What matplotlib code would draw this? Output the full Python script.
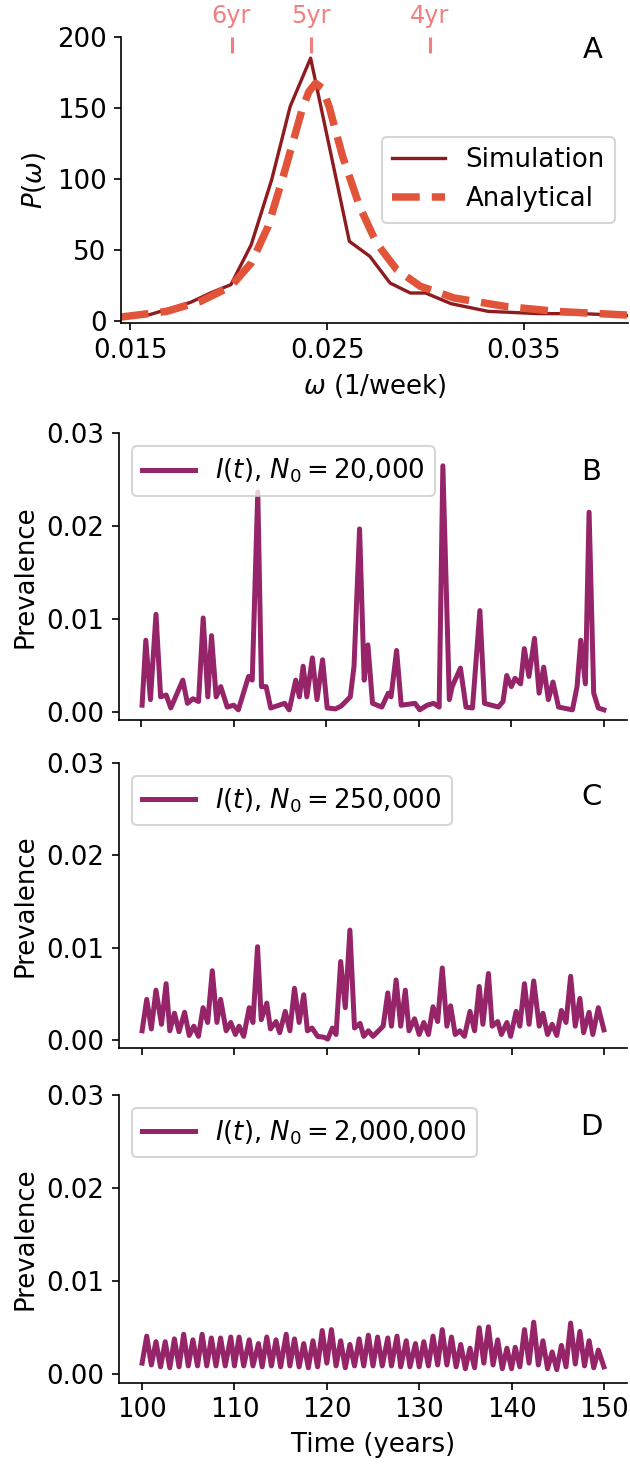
import numpy as np
import matplotlib
matplotlib.use("Agg")
import matplotlib.pyplot as plt
from matplotlib.ticker import FormatStrFormatter

plt.rcParams['font.size'] = 12.5

# --- panel A: power spectrum ---
omega_sim = [0.01452, 0.01598, 0.01805, 0.01908, 0.02011, 0.02114, 0.02218, 0.02312,
             0.02416, 0.02613, 0.02717, 0.02820, 0.02923, 0.03001, 0.03130, 0.03319,
             0.03577, 0.03801, 0.04025]
power_sim = [3.5, 4.7, 13.3, 20.0, 25.8, 53.9, 99.5, 151.0,
             185.0, 56.2, 45.7, 26.9, 19.9, 19.9, 12.4, 7.0,
             5.4, 5.4, 4.0]

omega_ana = [0.01452, 0.01684, 0.01856, 0.02011, 0.02114, 0.02200, 0.02286, 0.02372,
             0.02407, 0.02441, 0.02476, 0.02510, 0.02579, 0.02665, 0.02751, 0.02854,
             0.02974, 0.03146, 0.03405, 0.03663, 0.04024]
power_ana = [3.0, 7.0, 14.0, 24.6, 41.0, 66.7, 106.4, 148.5,
             161.4, 167.3, 163.8, 150.9, 115.8, 80.7, 55.0, 36.3,
             24.6, 16.4, 10.5, 7.0, 4.4]

period_labels = ["6yr", "5yr", "4yr"]
period_omega = [0.02014, 0.02417, 0.03021]

# --- panel B: N0 = 20,000 ---
t_b = [100.1, 100.5, 101.0, 101.6, 102.1, 102.7, 103.2, 104.5, 105.0, 105.6, 106.2, 106.7,
       107.2, 107.6, 108.1, 108.6, 109.3, 110.0, 110.5, 111.6, 112.0, 112.6, 113.0, 113.5,
       114.0, 115.5, 116.0, 116.7, 117.1, 117.5, 117.9, 118.5, 119.0, 119.6, 120.1, 121.0,
       121.6, 122.6, 123.0, 123.6, 124.1, 124.5, 125.0, 126.0, 126.7, 127.0, 127.6, 128.1,
       129.6, 130.1, 130.9, 131.6, 132.2, 132.6, 133.3, 133.6, 134.5, 135.1, 135.8, 136.6,
       137.1, 138.6, 139.1, 139.5, 140.0, 140.4, 141.0, 141.4, 141.9, 142.5, 143.0, 143.5,
       144.0, 144.5, 145.1, 146.6, 147.1, 147.5, 148.0, 148.4, 148.9, 149.4, 150.0]
i_b = [0.0007, 0.0077, 0.0013, 0.0105, 0.0016, 0.0018, 0.0004, 0.0034, 0.0009, 0.0014, 0.0011, 0.0101,
       0.0016, 0.0082, 0.0016, 0.0027, 0.0005, 0.0007, 0.0002, 0.0038, 0.0034, 0.0237, 0.0027, 0.0027,
       0.0004, 0.0009, 0.0002, 0.0034, 0.0016, 0.0049, 0.0016, 0.0058, 0.0013, 0.0056, 0.0004, 0.0003,
       0.0006, 0.0016, 0.0049, 0.0197, 0.0034, 0.0072, 0.0009, 0.0005, 0.0020, 0.0016, 0.0066, 0.0007,
       0.0009, 0.0002, 0.0007, 0.0009, 0.0005, 0.0265, 0.0013, 0.0027, 0.0047, 0.0005, 0.0004, 0.0109,
       0.0009, 0.0005, 0.0011, 0.0039, 0.0027, 0.0036, 0.0030, 0.0068, 0.0038, 0.0079, 0.0020, 0.0048,
       0.0013, 0.0032, 0.0005, 0.0002, 0.0027, 0.0077, 0.0030, 0.0215, 0.0020, 0.0004, 0.0002]

# --- panel C: N0 = 250,000 ---
t_c = [100.0, 100.5, 101.0, 101.5, 102.1, 102.6, 103.0, 103.5, 104.0, 104.6, 105.1, 105.6,
       106.1, 106.6, 107.1, 107.6, 108.1, 108.5, 109.1, 109.6, 110.1, 110.5, 111.0, 111.6,
       112.0, 112.5, 112.9, 113.5, 113.9, 114.5, 114.9, 115.5, 116.0, 116.5, 117.0, 117.5,
       117.9, 118.4, 119.0, 119.7, 120.1, 120.6, 121.0, 121.5, 122.0, 122.5, 123.0, 123.6,
       124.0, 124.5, 125.0, 125.6, 126.1, 126.6, 127.0, 127.5, 128.0, 128.5, 128.9, 129.5,
       130.0, 130.5, 131.0, 131.5, 132.0, 132.5, 133.0, 133.4, 133.9, 134.4, 134.9, 135.5,
       136.0, 136.5, 136.9, 137.5, 137.9, 138.5, 138.9, 139.5, 139.9, 140.5, 140.9, 141.4,
       141.9, 142.4, 143.0, 143.4, 143.9, 144.4, 144.9, 145.4, 145.9, 146.4, 146.9, 147.4,
       147.8, 148.4, 148.8, 149.4, 150.0]
i_c = [0.0010, 0.0044, 0.0012, 0.0054, 0.0017, 0.0061, 0.0010, 0.0029, 0.0009, 0.0030, 0.0005, 0.0015,
       0.0004, 0.0035, 0.0019, 0.0075, 0.0019, 0.0044, 0.0010, 0.0019, 0.0006, 0.0015, 0.0004, 0.0035,
       0.0019, 0.0101, 0.0022, 0.0040, 0.0012, 0.0020, 0.0008, 0.0031, 0.0010, 0.0056, 0.0019, 0.0049,
       0.0010, 0.0013, 0.0004, 0.0003, 0.0001, 0.0013, 0.0006, 0.0085, 0.0035, 0.0119, 0.0013, 0.0018,
       0.0004, 0.0010, 0.0004, 0.0010, 0.0015, 0.0051, 0.0015, 0.0065, 0.0015, 0.0054, 0.0010, 0.0023,
       0.0006, 0.0019, 0.0006, 0.0036, 0.0020, 0.0078, 0.0015, 0.0037, 0.0006, 0.0010, 0.0004, 0.0031,
       0.0010, 0.0058, 0.0017, 0.0072, 0.0015, 0.0020, 0.0006, 0.0019, 0.0004, 0.0031, 0.0015, 0.0061,
       0.0017, 0.0064, 0.0015, 0.0029, 0.0006, 0.0017, 0.0005, 0.0032, 0.0019, 0.0069, 0.0015, 0.0045,
       0.0008, 0.0030, 0.0006, 0.0035, 0.0011]

# --- panel D: N0 = 2,000,000 (annual peaks and troughs) ---
d_peak_t = [100.5, 101.5, 102.5, 103.5, 104.5, 105.5, 106.5, 107.5, 108.5, 109.6,
            110.5, 111.6, 112.6, 113.5, 114.5, 115.6, 116.5, 117.5, 118.5, 119.5,
            120.5, 121.5, 122.5, 123.5, 124.5, 125.5, 126.6, 127.6, 128.6, 129.6,
            130.5, 131.5, 132.5, 133.5, 134.5, 135.5, 136.5, 137.5, 138.5, 139.5,
            140.4, 141.4, 142.4, 143.4, 144.4, 145.4, 146.4, 147.4, 148.4, 149.4]
d_peak_v = [0.0041, 0.0035, 0.0035, 0.0038, 0.0043, 0.0037, 0.0043, 0.0039, 0.0039, 0.0040,
            0.0040, 0.0037, 0.0033, 0.0040, 0.0037, 0.0043, 0.0038, 0.0033, 0.0036, 0.0047,
            0.0048, 0.0036, 0.0032, 0.0038, 0.0042, 0.0040, 0.0039, 0.0041, 0.0036, 0.0033,
            0.0035, 0.0041, 0.0048, 0.0040, 0.0032, 0.0028, 0.0050, 0.0051, 0.0037, 0.0028,
            0.0029, 0.0048, 0.0056, 0.0036, 0.0024, 0.0031, 0.0055, 0.0046, 0.0036, 0.0026]
d_trough_t = [100.0, 101.0, 102.0, 103.0, 104.0, 105.0, 106.0, 107.0, 108.0, 109.0,
              110.0, 111.0, 112.0, 113.0, 114.0, 115.0, 116.0, 117.0, 118.0, 119.0,
              120.0, 121.0, 122.0, 123.0, 124.0, 125.0, 126.0, 127.0, 128.0, 129.0,
              130.0, 131.0, 132.0, 133.0, 134.0, 135.0, 136.0, 137.0, 138.0, 139.0,
              140.0, 140.9, 141.9, 142.9, 143.9, 144.9, 145.9, 146.9, 147.9, 148.9, 150.0]
d_trough_v = [0.0012, 0.0010, 0.0008, 0.0007, 0.0008, 0.0009, 0.0009, 0.0009, 0.0009, 0.0009,
              0.0009, 0.0009, 0.0009, 0.0008, 0.0009, 0.0008, 0.0009, 0.0008, 0.0007, 0.0008,
              0.0012, 0.0009, 0.0007, 0.0009, 0.0009, 0.0009, 0.0009, 0.0009, 0.0008, 0.0008,
              0.0008, 0.0009, 0.0010, 0.0010, 0.0008, 0.0006, 0.0007, 0.0012, 0.0010, 0.0006,
              0.0006, 0.0008, 0.0012, 0.0010, 0.0006, 0.0005, 0.0008, 0.0011, 0.0009, 0.0007, 0.0008]

t_d = np.array(d_peak_t + d_trough_t)
i_d = np.array(d_peak_v + d_trough_v)
order = np.argsort(t_d)
t_d, i_d = t_d[order], i_d[order]

sim_color = '#8e1b1e'
ana_color = '#e2543a'
ts_color = '#952468'

fig = plt.figure(figsize=(4.2, 9.7667), dpi=150)

# panel A
axA = fig.add_axes([0.1921, 0.7795, 0.8048, 0.1954])
axA.plot(omega_sim, power_sim, color=sim_color, lw=1.6, label='Simulation')
axA.plot(omega_ana, power_ana, color=ana_color, lw=3.6, ls='--', label='Analytical')
axA.set_xlim(0.01452, 0.0403)
axA.set_ylim(-1.2, 200)
axA.set_xticks([0.015, 0.025, 0.035])
axA.set_yticks([0, 50, 100, 150, 200])
axA.set_xlabel(r'$\omega$ (1/week)')
axA.set_ylabel(r'$P(\omega)$')
axA.spines['top'].set_visible(False)
axA.spines['right'].set_visible(False)
axA.legend(loc='center right')
axA.text(0.93, 0.953, 'A', transform=axA.transAxes, ha='center', va='center', fontsize=14)

top = axA.twiny()
top.set_xlim(axA.get_xlim())
top.set_xticks(period_omega)
top.set_xticklabels(period_labels)
top.tick_params(axis='x', direction='in', length=7.5, width=1.5, colors='lightcoral',
                labelsize=11.5, pad=4)
for s in top.spines.values():
    s.set_visible(False)

# panels B-D
panels = [
    (t_b, i_b, '20{,}000', 'B', 0.5085, 0.1957, 0.866),
    (t_c, i_c, '250{,}000', 'C', 0.2844, 0.1949, 0.881),
    (t_d, i_d, '2{,}000{,}000', 'D', 0.0562, 0.1964, 0.890),
]
for k, (t, prev, n0, letter, bottom, height, ly) in enumerate(panels):
    ax = fig.add_axes([0.1889, bottom, 0.8063, height])
    ax.plot(t, prev, color=ts_color, lw=2.4, label=r'$I(t)$, $N_0 = %s$' % n0)
    ax.set_ylim(-0.0009, 0.03)
    ax.set_yticks([0.0, 0.01, 0.02, 0.03])
    ax.yaxis.set_major_formatter(FormatStrFormatter('%.2f'))
    ax.set_xticks([100, 110, 120, 130, 140, 150])
    ax.set_ylabel('Prevalence')
    ax.spines['top'].set_visible(False)
    ax.spines['right'].set_visible(False)
    ax.legend(loc='upper left')
    ax.text(0.93, ly, letter, transform=ax.transAxes, ha='center', va='center', fontsize=14)
    if letter != 'D':
        ax.set_xticklabels([])
    else:
        ax.set_xlabel('Time (years)')

fig.savefig('out.png', dpi=150)
